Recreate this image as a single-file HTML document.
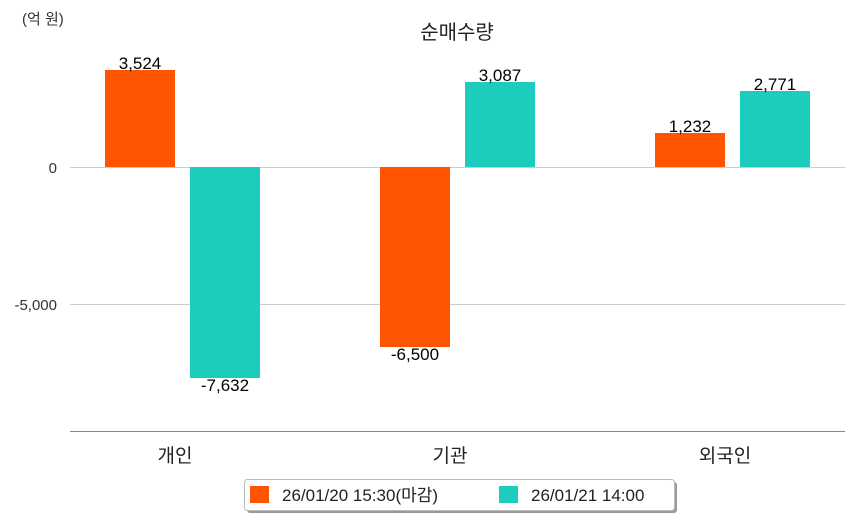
<!DOCTYPE html>
<html><head><meta charset="utf-8"><style>
body{margin:0;background:#fff;}
svg{display:block;font-family:"Liberation Sans","Noto Sans CJK KR",sans-serif;}
</style></head><body>
<svg width="854" height="520" viewBox="0 0 854 520">
<text x="22" y="24" font-size="15" fill="#333">(억 원)</text>
<text x="457" y="39" font-size="20" fill="#222" text-anchor="middle">순매수량</text>
<line x1="70" y1="167.5" x2="845" y2="167.5" stroke="#ccc"/>
<line x1="70" y1="304.5" x2="845" y2="304.5" stroke="#ccc"/>
<text x="57" y="173" font-size="15" fill="#333" text-anchor="end">0</text>
<text x="57" y="310" font-size="15" fill="#333" text-anchor="end">-5,000</text>
<rect x="105" y="70" width="70" height="97" fill="#ff5500"/>
<rect x="190" y="167" width="70" height="211" fill="#1ccdbd"/>
<rect x="380" y="167" width="70" height="180" fill="#ff5500"/>
<rect x="465" y="82" width="70" height="85" fill="#1ccdbd"/>
<rect x="655" y="133" width="70" height="34" fill="#ff5500"/>
<rect x="740" y="91" width="70" height="76" fill="#1ccdbd"/>
<g font-size="17" fill="#000" text-anchor="middle">
<text x="140" y="69">3,524</text>
<text x="225" y="391">-7,632</text>
<text x="415" y="360">-6,500</text>
<text x="500" y="81">3,087</text>
<text x="690" y="132">1,232</text>
<text x="775" y="90">2,771</text>
</g>
<line x1="70" y1="431.5" x2="845" y2="431.5" stroke="#888"/>
<g font-size="19" fill="#222" text-anchor="middle">
<text x="175" y="462">개인</text>
<text x="450" y="462">기관</text>
<text x="725" y="462">외국인</text>
</g>
<rect x="247" y="482" width="430" height="31" rx="3" fill="#999"/>
<rect x="244.5" y="479.5" width="430" height="31" rx="3" fill="#fff" stroke="#bbb"/>
<rect x="250" y="486" width="19" height="17" fill="#ff5500"/>
<text x="282" y="501" font-size="17" fill="#222">26/01/20 15:30(마감)</text>
<rect x="499" y="486" width="19" height="17" fill="#1ccdbd"/>
<text x="531" y="501" font-size="17" fill="#222">26/01/21 14:00</text>
</svg>
</body></html>
